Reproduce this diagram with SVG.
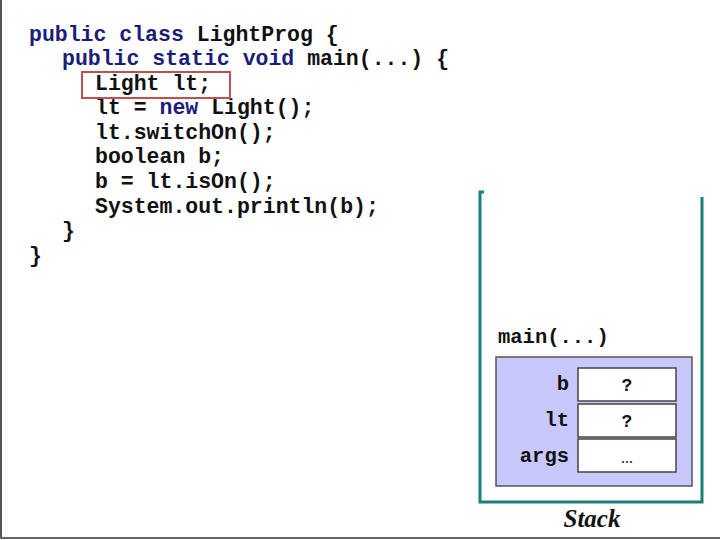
<svg xmlns="http://www.w3.org/2000/svg" width="720" height="540" viewBox="0 0 720 540">
<style>
.code{font-family:"Liberation Mono","Courier New",monospace;font-weight:bold;font-size:21.5px;fill:#111}
.kw{fill:#1c1c7a}
.lbl{font-family:"Liberation Mono","Courier New",monospace;font-weight:bold;font-size:20.5px;fill:#111}
.cell{fill:#fff;stroke:#444;stroke-width:1.5}
.val{font-family:"Liberation Mono","Courier New",monospace;font-weight:bold;font-size:18px;fill:#111;text-anchor:middle}
.wall{fill:none;stroke:#1d7f7a;stroke-width:3}
</style>
<rect width="720" height="540" fill="#fff"/>
<line x1="1" y1="0" x2="1" y2="539" stroke="#555" stroke-width="2"/>
<line x1="0" y1="538" x2="720" y2="538" stroke="#666" stroke-width="2"/>
<g id="code">
<text class="code" x="29" y="41"><tspan class="kw">public class </tspan>LightProg {</text>
<text class="code" x="62" y="65"><tspan class="kw">public static void </tspan>main(...) {</text>
<text class="code" x="95" y="90">Light lt;</text>
<text class="code" x="95" y="114">lt = <tspan class="kw">new </tspan>Light();</text>
<text class="code" x="95" y="139">lt.switchOn();</text>
<text class="code" x="95" y="163">boolean b;</text>
<text class="code" x="95" y="188">b = lt.isOn();</text>
<text class="code" x="95" y="213">System.out.println(b);</text>
<text class="code" x="62" y="237">}</text>
<text class="code" x="29" y="262">}</text>
</g>
<g id="highlight">
<rect x="82" y="72" width="148" height="26" fill="none" stroke="#c0504d" stroke-width="2"/>
</g>
<g id="stack">
<path class="wall" d="M484 192 H480 V502 H702 V197"/>
<text class="lbl" x="498" y="343">main(...)</text>
<rect x="496" y="357" width="196" height="129" fill="#c8c8fc" stroke="#555" stroke-width="1.5"/>
<text class="lbl" x="569" y="390" text-anchor="end">b</text>
<text class="lbl" x="569" y="426" text-anchor="end">lt</text>
<text class="lbl" x="569" y="462" text-anchor="end">args</text>
<rect class="cell" x="578" y="368" width="98" height="33"/>
<rect class="cell" x="578" y="404" width="98" height="33"/>
<rect class="cell" x="578" y="439" width="98" height="33"/>
<text class="val" x="627" y="391">?</text>
<text class="val" x="627" y="427">?</text>
<text x="627" y="463" font-family="Liberation Serif,serif" font-size="16" fill="#111" text-anchor="middle">...</text>
<text x="592" y="527" font-family="Liberation Serif,serif" font-size="25" font-weight="bold" font-style="italic" fill="#111" text-anchor="middle">Stack</text>
</g>
</svg>
